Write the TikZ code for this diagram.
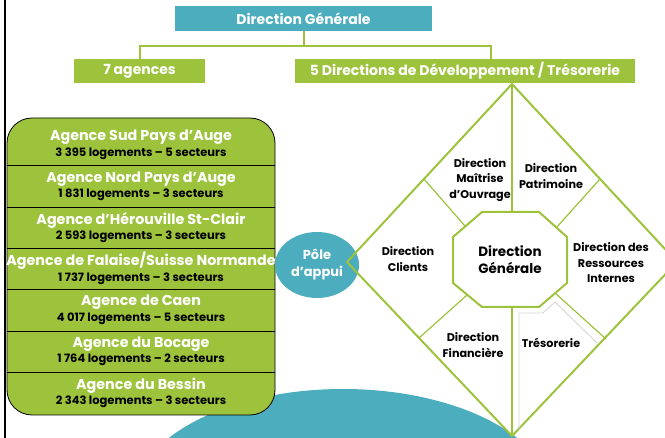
\documentclass[tikz,border=0pt]{standalone}
\usepackage{fontspec}
\setmainfont{Poppins}
\usetikzlibrary{shapes.geometric}
\definecolor{vert}{HTML}{9DC33C}
\definecolor{bleu}{HTML}{4BADBD}

\begin{document}
\begin{tikzpicture}[x=1pt,y=-1pt,
    boite/.style={fill=#1,text=white,font=\bfseries\fontsize{14}{16}\selectfont,inner sep=0pt,minimum height=24pt},
    lien/.style={draw=vert,line width=2pt},
    agence/.style={align=center,text=black,font=\bfseries\fontsize{11.5}{15.5}\selectfont},
    dirtexte/.style={align=center,text=black,font=\bfseries\fontsize{11.2}{15.5}\selectfont}]
    \useasboundingbox (0,0) rectangle (665,438);
    \clip (0,0) rectangle (665,438);
    \draw[line width=2.5pt] (5,0) -- (5,438);
    % bandeau du haut
    \node[boite=bleu,minimum width=257pt,minimum height=25pt] (dg) at (303.5,18.5) {Direction Générale};
    \node[boite=vert,minimum width=131pt] (agences) at (139.5,71) {7 agences};
    \node[boite=vert,minimum width=340pt] (devdir) at (465,71) {5 Directions de Développement / Trésorerie};
    \coordinate (fourche) at (303.5,46);
    \coordinate (droite) at (491,46);
    \draw[lien] (dg.south) -- (fourche);
    \draw[lien] (agences.north) |- (fourche) -- (droite) -- (droite |- devdir.north);
    % grand disque bleu
    \fill[bleu] (343,500) ellipse [x radius=210, y radius=111];
    % les agences
    \draw[fill=vert,rounded corners=25pt,line width=0.8pt] (7,118) rectangle (275,415);
    \draw[line width=0.8pt] (7,165) -- (275,165);
    \draw[line width=0.8pt] (7,207) -- (275,207);
    \draw[line width=0.8pt] (7,248) -- (275,248);
    \draw[line width=0.8pt] (7,289) -- (275,289);
    \draw[line width=0.8pt] (7,331) -- (275,331);
    \draw[line width=0.8pt] (7,372) -- (275,372);
    \node[agence] (sudauge) at (141,145) {\textcolor{white}{\fontsize{14.3}{15.5}\selectfont Agence Sud Pays d’Auge}\\3 395 logements – 5 secteurs};
    \node[agence] (nordauge) at (141,186.5) {\textcolor{white}{\fontsize{14.3}{15.5}\selectfont Agence Nord Pays d’Auge}\\1 831 logements – 3 secteurs};
    \node[agence] (herouville) at (141,227.5) {\textcolor{white}{\fontsize{14.3}{15.5}\selectfont Agence d’Hérouville St-Clair}\\2 593 logements – 3 secteurs};
    \node[agence] (falaise) at (141,268.5) {\textcolor{white}{\fontsize{14.3}{15.5}\selectfont Agence de Falaise/Suisse Normande}\\1 737 logements – 3 secteurs};
    \node[agence] (caen) at (141,310) {\textcolor{white}{\fontsize{14.3}{15.5}\selectfont Agence de Caen}\\4 017 logements – 5 secteurs};
    \node[agence] (bocage) at (141,351.5) {\textcolor{white}{\fontsize{14.3}{15.5}\selectfont Agence du Bocage}\\1 764 logements – 2 secteurs};
    \node[agence] (bessin) at (141,393) {\textcolor{white}{\fontsize{14.3}{15.5}\selectfont Agence du Bessin}\\2 343 logements – 3 secteurs};
    % pole d'appui
    \node[ellipse,fill=bleu,minimum width=84pt,minimum height=66pt,inner sep=0pt,align=center,
          text=white,font=\bfseries\fontsize{13}{17}\selectfont] (pole) at (317,265) {Pôle\\d’appui};
    % le losange
    \coordinate (gauche) at (347,262);
    \coordinate (haut) at (512,84);
    \coordinate (bas) at (512,436);
    \coordinate (dr) at (677,262);
    \draw[lien] (gauche) -- (haut) -- (dr) -- (bas) -- cycle;
    \draw[gray!35,line width=0.8pt] (519,430) -- (519,313) -- (543,313) -- (555,302) -- (597,343);
    \coordinate (o1) at (482,212); \coordinate (o2) at (539,212);
    \coordinate (o3) at (567,237); \coordinate (o4) at (567,283);
    \coordinate (o5) at (539,307); \coordinate (o6) at (482,307);
    \coordinate (o7) at (453,283); \coordinate (o8) at (453,237);
    \draw[lien] (haut) -- (512,212);
    \draw[lien] (512,307) -- (bas);
    \draw[lien,line width=1.2pt] (465,226) -- (424,179);
    \draw[lien,line width=1.2pt] (556,228) -- (600,179);
    \draw[lien,line width=1.2pt] (467,295) -- (419,338);
    \draw[lien,line width=1.2pt] (555,293) -- (606,339);
    \draw[lien,fill=white] (o1) -- (o2) -- (o3) -- (o4) -- (o5) -- (o6) -- (o7) -- (o8) -- cycle;
    \node[align=center,font=\bfseries\fontsize{13.5}{17}\selectfont] (centre) at (510,260) {Direction\\Générale};
    \node[dirtexte] (moa) at (480,180) {Direction\\Maîtrise\\d’Ouvrage};
    \node[dirtexte] (patrimoine) at (551,176) {Direction\\Patrimoine};
    \node[dirtexte] (clients) at (408,259) {Direction\\Clients};
    \node[dirtexte] (rh) at (611,263) {Direction des\\Ressources\\Internes};
    \node[dirtexte] (finance) at (473,345) {Direction\\Financière};
    \node[dirtexte] (tresorerie) at (551,343) {Trésorerie};
\end{tikzpicture}
\end{document}
